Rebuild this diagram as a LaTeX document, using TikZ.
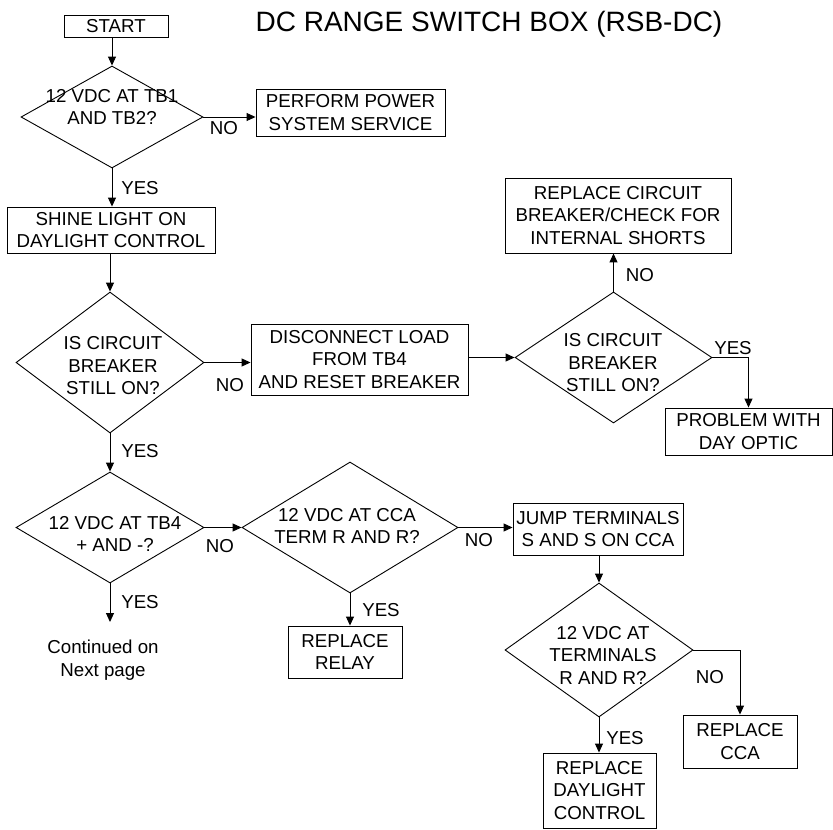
\documentclass[tikz,border=0pt]{standalone}
\usepackage{fontspec}
\setmainfont{Liberation Sans}
\usetikzlibrary{shapes.geometric,arrows.meta}
\newcommand\flowfont{\fontsize{18.7}{22.5}\selectfont}
\newcommand\titlefont{\fontsize{28}{32}\selectfont}
\tikzset{
  box/.style={draw, line width=0.9pt, align=center, font=\flowfont, inner sep=0pt},
  dia/.style={draw, diamond, line width=0.9pt, inner sep=0pt},
  dtext/.style={align=center, font=\flowfont, inner sep=0pt},
  lab/.style={font=\flowfont, inner sep=0pt},
  arr/.style={line width=1pt, -{Triangle[length=9pt,width=8pt]}},
}
\begin{document}
\begin{tikzpicture}[x=1pt,y=-1pt]
\useasboundingbox (0,0) rectangle (833,830);
% title
\node[font=\titlefont, inner sep=0pt] (title) at (489,24) {DC RANGE SWITCH BOX (RSB-DC)};
% boxes
\node[box, minimum width=104, minimum height=22] (start) at (116,26) {START};
\node[box, minimum width=189, minimum height=47] (pwr) at (350.5,112.5) {PERFORM POWER\\SYSTEM SERVICE};
\node[box, minimum width=208, minimum height=46] (shine) at (111,230) {SHINE LIGHT ON\\DAYLIGHT CONTROL};
\node[box, minimum width=217, minimum height=71] (disc) at (359.5,359.5) {DISCONNECT LOAD\\FROM TB4\\AND RESET BREAKER};
\node[box, minimum width=226, minimum height=75] (rcb) at (618,215.5) {REPLACE CIRCUIT\\BREAKER/CHECK FOR\\INTERNAL SHORTS};
\node[box, minimum width=167, minimum height=47] (prob) at (748.5,431.5) {PROBLEM WITH\\DAY OPTIC};
\node[box, minimum width=114, minimum height=52] (relay) at (345,652) {REPLACE\\RELAY};
\node[box, minimum width=170, minimum height=52] (jump) at (598,529) {JUMP TERMINALS\\S AND S ON CCA};
\node[box, minimum width=113, minimum height=75] (rdc) at (599.5,790.5) {REPLACE\\DAYLIGHT\\CONTROL};
\node[box, minimum width=114, minimum height=53] (cca) at (740,741.5) {REPLACE\\CCA};
% diamonds
\node[dia, minimum width=182, minimum height=102] (d1) at (112,117) {};
\node[dia, minimum width=188, minimum height=141] (d2) at (110,362.5) {};
\node[dia, minimum width=197, minimum height=131] (d3) at (613.5,357.5) {};
\node[dia, minimum width=188, minimum height=111] (d4) at (110,527.5) {};
\node[dia, minimum width=216, minimum height=131] (d5) at (350,527.5) {};
\node[dia, minimum width=188, minimum height=134] (d6) at (599,650) {};
\node[dtext] (d1t) at (112,107) {12 VDC AT TB1\\AND TB2?};
\node[dtext] (d2t) at (113,366) {IS CIRCUIT\\BREAKER\\STILL ON?};
\node[dtext] (d3t) at (613,363) {IS CIRCUIT\\BREAKER\\STILL ON?};
\node[dtext] (d4t) at (115,534) {12 VDC AT TB4\\+ AND -?};
\node[dtext] (d5t) at (347,526) {12 VDC AT CCA\\TERM R AND R?};
\node[dtext] (d6t) at (603,655) {12 VDC AT\\TERMINALS\\R AND R?};
% continued text
\node[dtext] (cont) at (103,660) {Continued on\\Next page};
\coordinate (contend) at (110,622);
% connectors
\draw[arr] (d1.north |- start.south) -- (d1.north);
\draw[arr] (d1.east) -- (d1.east -| pwr.west);
\draw[arr] (d1.south) -- (d1.south |- shine.north);
\draw[arr] (d2.north |- shine.south) -- (d2.north);
\draw[arr] (d2.east) -- (d2.east -| disc.west);
\draw[arr] (disc.east |- d3.west) -- (d3.west);
\draw[arr] (d3.north) -- (d3.north |- rcb.south);
\draw[arr] (d3.east) -| (prob.north);
\draw[arr] (d2.south) -- (d4.north);
\draw[arr] (d4.east) -- (d5.west);
\draw[arr] (d4.south) -- (contend);
\draw[arr] (d5.south) -- (d5.south |- relay.north);
\draw[arr] (d5.east) -- (d5.east -| jump.west);
\draw[arr] (d6.north |- jump.south) -- (d6.north);
\draw[arr] (d6.south) -- (d6.south |- rdc.north);
\draw[arr] (d6.east) -| (cca.north);
% labels
\node[lab] (l1) at (224,128) {NO};
\node[lab] (l2) at (140,188) {YES};
\node[lab] (l3) at (230,385) {NO};
\node[lab] (l4) at (640,275) {NO};
\node[lab] (l5) at (733,348) {YES};
\node[lab] (l6) at (140,451) {YES};
\node[lab] (l7) at (220,546) {NO};
\node[lab] (l8) at (140,602) {YES};
\node[lab] (l9) at (381,610) {YES};
\node[lab] (l10) at (479,540) {NO};
\node[lab] (l11) at (625,738) {YES};
\node[lab] (l12) at (710,677) {NO};
\end{tikzpicture}
\end{document}
